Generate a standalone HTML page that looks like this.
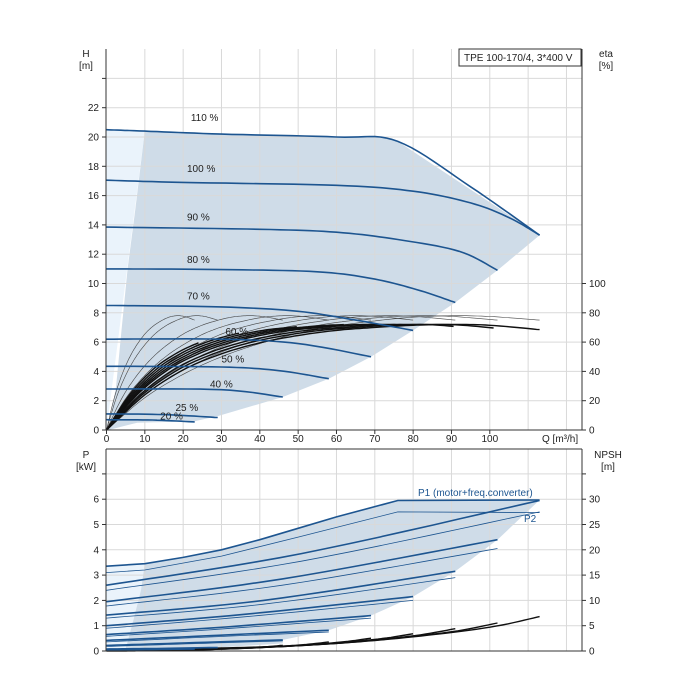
<!DOCTYPE html>
<html><head><meta charset="utf-8"><style>
body{margin:0;background:#fff;}
svg{display:block;font-family:"Liberation Sans",sans-serif;}
text{font-size:10px;fill:#222;}
</style></head><body>
<svg id="c" width="700" height="700">
<rect x="0" y="0" width="700" height="700" fill="#fff"/>
</svg>
<script>
// ---- data ----
const qTicks=[0,10,20,30,40,50,60,70,80,90,100];
const hTicks=[0,2,4,6,8,10,12,14,16,18,20,22];
const etaTicks=[0,20,40,60,80,100];
const pTicks=[0,1,2,3,4,5,6];
const npshTicks=[0,5,10,15,20,25,30];
const speedLabels=["110 %","100 %","90 %","80 %","70 %","60 %","50 %","40 %","25 %","20 %"];
const speedQ=[
 [0,10,30,60,76,95,113],
 [0,20,60,80,95,105,113],
 [0,40,60,76,92,102],
 [0,30,55,70,82,91],
 [0,30,50,65,80],
 [0,30,50,69],
 [0,30,45,58],
 [0,30,46],
 [0,15,29],
 [0,12,23]];
const speedH=[
 [20.5,20.4,20.2,20.0,19.7,16.6,13.3],
 [17.05,16.9,16.7,16.3,15.5,14.5,13.3],
 [13.85,13.7,13.5,13.0,12.2,10.9],
 [11.0,10.95,10.8,10.3,9.5,8.7],
 [8.5,8.4,8.1,7.5,6.8],
 [6.2,6.2,5.9,5.0],
 [4.35,4.3,4.05,3.5],
 [2.8,2.75,2.25],
 [1.1,1.05,0.85],
 [0.7,0.68,0.55]];
const labelQ=[22,21,21,21,21,31,30,27,18,14];
const labelH=[21.1,17.6,14.3,11.4,8.9,6.5,4.6,2.9,1.3,0.7];
const endQ=[113,102,91,80,69,58,46,29,23];
const etaThinQ=[0,10,20,30,40,50,60,70,80,90,100,113];
const etaThin=[0,22,38,50,59,66,71,74.5,77,78,77.5,75];
const etaThickQ=[0,10,20,30,40,50,60,70,80,90,100,113];
const etaThick=[0,24,41,52,59.5,64.5,68,70,71.5,72,71.5,68.5];
const thickScale=[1.0,0.93,0.87,0.8,0.76,0.72,0.68,0.64,0.6];
const thickEnd=[113,102,91,80,70,62,50,35,24];
const p1Start=[3.35,2.6,1.95,1.42,1.0,0.65,0.42,0.22,0.08,0.05];
const p1Mid=[4.85,3.85,2.85,2.0,1.45,0.95,0.6,0.32,0.1,0.06];
const p1End=[5.95,5.95,4.4,3.15,2.15,1.4,0.82,0.44,0.14,0.08];
const p2Start=[3.1,2.4,1.78,1.3,0.9,0.58,0.36,0.18,0.06,0.04];
const p2Mid=[4.5,3.55,2.6,1.85,1.35,0.88,0.55,0.28,0.09,0.05];
const p2End=[5.5,5.5,4.05,2.9,2.0,1.3,0.75,0.4,0.12,0.07];
const pEndQ=[113,113,102,91,80,69,58,46,29,23];
const npshQ=[0,20,40,60,80,100,113];
const npshBase=[0.3,0.45,0.8,1.5,2.8,4.7,6.8];
const lowQ=[113,102,91,80,69,58,46,29,23];
const lowH=[13.3,10.9,8.7,6.8,5.0,3.5,2.25,0.95,0.6];
// ---- axes ----
const X0=106.5,KX=3.833;
const xQ=q=>X0+q*KX;
const yH=h=>430-h*14.65;
const yEta=e=>yH(e/10);
const yP=p=>651-p*25.3;
const yN=n=>yP(n/5);
const svgEl=document.getElementById('c');
const NS='http://www.w3.org/2000/svg';
function mk(tag,attrs,parent){const e=document.createElementNS(NS,tag);for(const k in attrs)e.setAttribute(k,attrs[k]);(parent||svgEl).appendChild(e);return e;}
function pts(a){return a.map(p=>p[0].toFixed(1)+','+p[1].toFixed(1)).join(' ');}
function smooth(qs,vs,fy){
 const out=[];const n=qs.length;
 for(let i=0;i<n-1;i++){const p0=i>0?i-1:i,p3=i+2<n?i+2:i+1;
  for(let k=0;k<10;k++){const t=k/10,t2=t*t,t3=t2*t;
   const f=(a,b,c,d)=>0.5*(2*b+(-a+c)*t+(2*a-5*b+4*c-d)*t2+(-a+3*b-3*c+d)*t3);
   out.push([xQ(f(qs[p0],qs[i],qs[i+1],qs[p3])),fy(f(vs[p0],vs[i],vs[i+1],vs[p3]))]);}}
 out.push([xQ(qs[n-1]),fy(vs[n-1])]);return out;}

// ---- TOP CHART ----
const g=mk('g',{});


const light=mk('polygon',{fill:'#eaf3fb',points:pts([[xQ(0),yH(0)],[xQ(0),yH(20.5)],[xQ(10),yH(20.4)],[xQ(0),yH(0)]])},g);


const topPts=smooth(speedQ[0],speedH[0],yH).filter(p=>p[0]>=xQ(10)&&p[0]<=xQ(76));
const lowPts=lowQ.map((q,i)=>[xQ(q),yH(lowH[i])]);
const leftEdge=[[xQ(2.5),yH(3)],[xQ(4),yH(7)],[xQ(5.5),yH(11)],[xQ(7.5),yH(15)],[xQ(10),yH(20.4)]];
const dark=mk('polygon',{fill:'#cfdce8',points:pts([...topPts,[xQ(76),yH(19.7)],[xQ(113),yH(13.3)],...lowPts,[xQ(8),yH(0.5)],[xQ(0.5),yH(0)],...leftEdge])},g);


for(let q=10;q<=120;q+=10){const l=mk('line',{x1:xQ(q),x2:xQ(q),y1:49,y2:430,stroke:'#d9d9d9','stroke-width':1},g);
 
 }
for(let h=2;h<=24;h+=2){const l=mk('line',{x1:106,x2:582,y1:yH(h),y2:yH(h),stroke:'#d9d9d9','stroke-width':1},g);
 
 }
endQ.forEach((e,i)=>{const s=e/113;const qs=etaThinQ.map(q=>q*s);
 const l=mk('polyline',{points:pts(smooth(qs,etaThin,yEta)),fill:'none',stroke:'#444','stroke-width':0.6},g);
 
 });
thickScale.forEach((s,i)=>{const qs=etaThickQ.map(q=>q*s);const c=smooth(qs,etaThick,yEta).filter(p=>p[0]<=xQ(thickEnd[i])+0.5);
 const l=mk('polyline',{points:pts(c),fill:'none',stroke:'#111','stroke-width':1.4},g);
 
 });
speedQ.forEach((qs,i)=>{const l=mk('polyline',{points:pts(smooth(qs,speedH[i],yH)),fill:'none',stroke:'#1d5590','stroke-width':1.6},g);
 
 
 const t=mk('text',{x:xQ(labelQ[i]),y:yH(labelH[i])},g);t.textContent=speedLabels[i];
 
 });
[[106,49,106,430],[582,49,582,430],[106,430,582,430]].forEach(a=>{const l=mk('line',{x1:a[0],y1:a[1],x2:a[2],y2:a[3],stroke:'#333','stroke-width':1},g);
 
 });
hTicks.forEach(h=>{mk('line',{x1:102,x2:106,y1:yH(h),y2:yH(h),stroke:'#333'},g);const t=mk('text',{x:99,y:yH(h)+3.5,'text-anchor':'end'},g);t.textContent=h;
 
 });
mk('line',{x1:102,x2:106,y1:yH(24),y2:yH(24),stroke:'#333'},g);
etaTicks.forEach(e=>{mk('line',{x1:582,x2:586,y1:yEta(e),y2:yEta(e),stroke:'#333'},g);const t=mk('text',{x:589,y:yEta(e)+3.5},g);t.textContent=e;
 
 });
qTicks.forEach(q=>{mk('line',{x1:xQ(q),x2:xQ(q),y1:430,y2:434,stroke:'#333'},g);const t=mk('text',{x:xQ(q),y:442,'text-anchor':'middle'},g);t.textContent=q;
 
 });
const box=mk('rect',{x:459,y:49,width:122,height:17,fill:'#fff',stroke:'#333','stroke-width':1});


const bt=mk('text',{x:464,y:61});bt.textContent='TPE 100-170/4, 3*400 V';



// ---- BOTTOM CHART ----
const g2=mk('g',{});


function pCurve(i,s,m,e){const q=pEndQ[i];return smooth([0,q*0.45,q],[s[i],m[i],e[i]],yP);}
const p1top=[[xQ(0),yP(3.35)],[xQ(10),yP(3.45)],[xQ(20),yP(3.7)],[xQ(30),yP(4.0)],[xQ(40),yP(4.4)],[xQ(50),yP(4.85)],[xQ(60),yP(5.3)],[xQ(76),yP(5.95)],[xQ(113),yP(5.97)]];
const l2=mk('polygon',{fill:'#eaf3fb',points:pts([[xQ(0),yP(0)],[xQ(0),yP(3.35)],[xQ(10),yP(3.45)],[xQ(10),yP(0)]])},g2);


const lowP=[[xQ(113),yP(5.97)],[xQ(102),yP(4.4)],[xQ(91),yP(3.15)],[xQ(80),yP(2.15)],[xQ(69),yP(1.4)],[xQ(58),yP(0.82)],[xQ(46),yP(0.44)],[xQ(46),yP(0.3)],[xQ(29),yP(0.14)],[xQ(5),yP(0.1)],[xQ(7),yP(1.2)],[xQ(9),yP(2.4)],[xQ(10),yP(3.45)]];
const d2=mk('polygon',{fill:'#cfdce8',points:pts([...p1top.slice(1),...lowP])},g2);


for(let q=10;q<=120;q+=10){const l=mk('line',{x1:xQ(q),x2:xQ(q),y1:449,y2:651,stroke:'#d9d9d9'},g2);
 
 }
for(let p=1;p<=7;p++){const l=mk('line',{x1:106,x2:582,y1:yP(p),y2:yP(p),stroke:'#d9d9d9'},g2);
 
 }
endQ.forEach(e=>{const s=e/113;const l=mk('polyline',{points:pts(smooth(npshQ.map(q=>q*s),npshBase.map(n=>n*s*s),yN)),fill:'none',stroke:'#111','stroke-width':1.4},g2);
 
 });
p1Start.forEach((v,i)=>{
 const c2=i===0?[[xQ(0),yP(3.1)],[xQ(10),yP(3.2)],[xQ(30),yP(3.75)],[xQ(50),yP(4.5)],[xQ(76),yP(5.5)],[xQ(113),yP(5.47)]]:pCurve(i,p2Start,p2Mid,p2End);
 const a=mk('polyline',{points:pts(c2),fill:'none',stroke:'#1d5590','stroke-width':0.8},g2);
 
 
 const c1=i===0?p1top:pCurve(i,p1Start,p1Mid,p1End);
 const b=mk('polyline',{points:pts(c1),fill:'none',stroke:'#1d5590','stroke-width':1.6},g2);
 
 });
[[106,449,106,651],[582,449,582,651],[106,651,582,651],[106,449,582,449]].forEach(a=>{const l=mk('line',{x1:a[0],y1:a[1],x2:a[2],y2:a[3],stroke:'#333'},g2);
 
 });
pTicks.forEach(p=>{mk('line',{x1:102,x2:106,y1:yP(p),y2:yP(p),stroke:'#333'},g2);const t=mk('text',{x:99,y:yP(p)+3.5,'text-anchor':'end'},g2);t.textContent=p;
 
 });
mk('line',{x1:102,x2:106,y1:yP(7),y2:yP(7),stroke:'#333'},g2);
mk('line',{x1:582,x2:586,y1:yP(7),y2:yP(7),stroke:'#333'},g2);
npshTicks.forEach(n=>{mk('line',{x1:582,x2:586,y1:yN(n),y2:yN(n),stroke:'#333'},g2);const t=mk('text',{x:589,y:yN(n)+3.5},g2);t.textContent=n;
 
 });
const t1=mk('text',{x:418,y:496,style:'fill:#1d5590'},g2);t1.textContent='P1 (motor+freq.converter)';


const t2=mk('text',{x:524,y:522,style:'fill:#1d5590'},g2);t2.textContent='P2';



// ---- axis titles ----
const titles=[['H',86,57,'middle','h-axis-title'],['[m]',86,69,'middle','h-axis-unit'],['eta',606,57,'middle','eta-axis-title'],['[%]',606,69,'middle','eta-axis-unit'],['Q [m³/h]',542,442,'start','q-axis-title'],['P',86,458,'middle','p-axis-title'],['[kW]',86,470,'middle','p-axis-unit'],['NPSH',608,458,'middle','npsh-axis-title'],['[m]',608,470,'middle','npsh-axis-unit']];
titles.forEach(a=>{const t=mk('text',{x:a[1],y:a[2],'text-anchor':a[3]});t.textContent=a[0];
 
 });
</script>
</body></html>
